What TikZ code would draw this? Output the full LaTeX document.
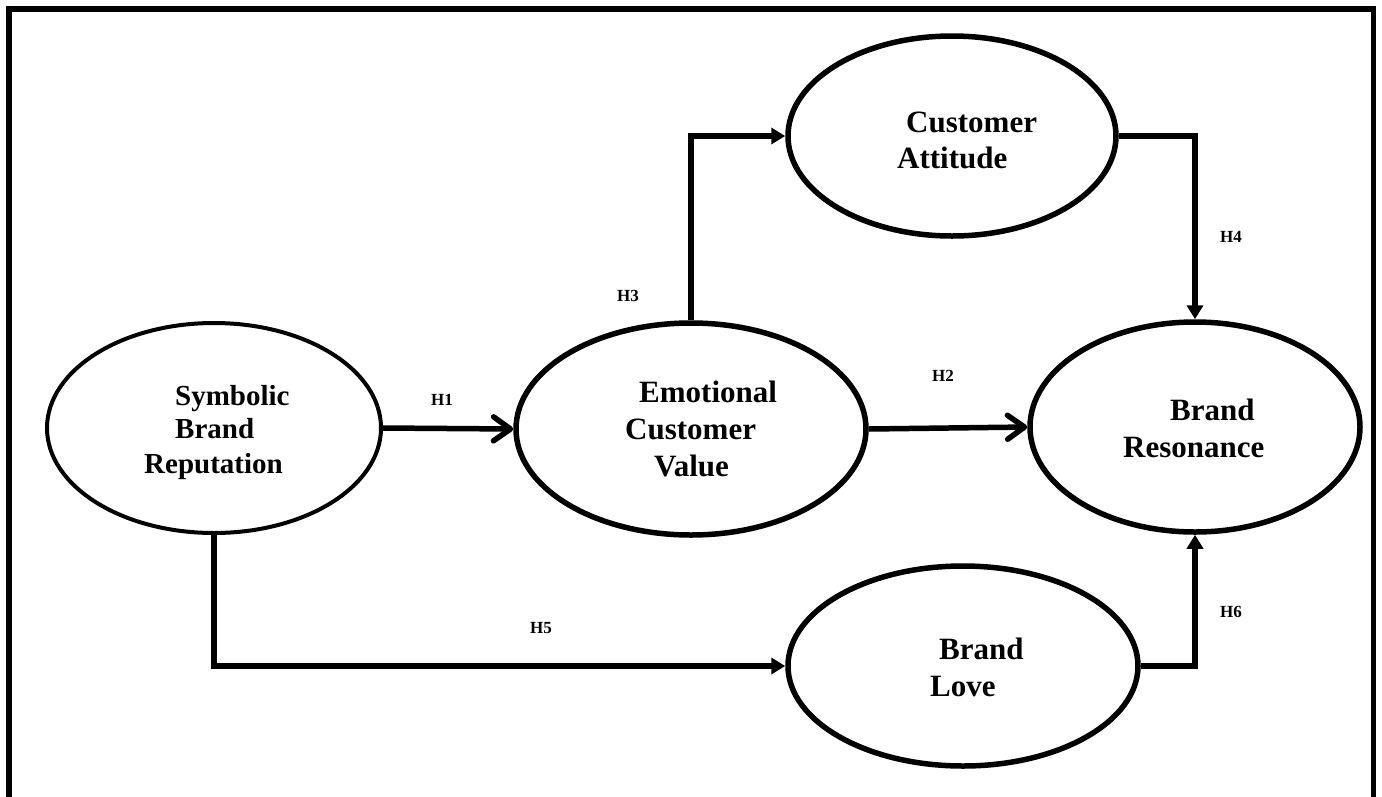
\documentclass[tikz,border=0pt]{standalone}
\usepackage{fontspec}
\setmainfont{Liberation Serif}
\usetikzlibrary{shapes.geometric,arrows.meta}
\tikzset{
  oval/.style={ellipse,draw=black,line width=5.5pt,inner sep=0pt},
  conn/.style={line width=5.5pt,draw=black},
  openarrow/.style={conn,-{Straight Barb[length=17pt,width=24pt,round]}},
  filledarrow/.style={conn,-{Triangle[length=14pt,width=16pt]}},
  wordsm/.style={anchor=base west,inner sep=0pt,font=\fontsize{29}{35}\selectfont\bfseries},
  word/.style={anchor=base west,inner sep=0pt,font=\fontsize{31}{37}\selectfont\bfseries},
  hyp/.style={inner sep=0pt,font=\fontsize{17}{20}\selectfont\bfseries}
}
\begin{document}
\begin{tikzpicture}[x=1pt,y=-1pt]
\useasboundingbox (0,0) rectangle (1382,796);
\clip (0,0) rectangle (1382,796);
% frame (bottom open)
\draw[line width=5.5pt] (9,820) -- (9,9) -- (1373.5,9) -- (1373.5,820);
% ellipses
\node[oval,line width=4pt,minimum width=334pt,minimum height=210pt] (sbr) at (214,428) {};
\node[oval,minimum width=350pt,minimum height=212pt] (ecv) at (691,429) {};
\node[oval,minimum width=328pt,minimum height=200pt] (ca) at (952,136) {};
\node[oval,minimum width=330pt,minimum height=210pt] (br) at (1195,427) {};
\node[oval,minimum width=350pt,minimum height=200pt] (bl) at (963,666) {};
% texts
\node[wordsm] (t1) at (175,405) {Symbolic};
\node[wordsm] (t2) at (175,438) {Brand};
\node[wordsm] (t3) at (144,473) {Reputation};
\node[word] (t4) at (639,402) {Emotional};
\node[word] (t5) at (625,439) {Customer};
\node[word] (t6) at (654,476) {Value};
\node[word] (t7) at (906,132) {Customer};
\node[word] (t8) at (897,168) {Attitude};
\node[word] (t9) at (1170,420) {Brand};
\node[word] (t10) at (1123,457) {Resonance};
\node[word] (t11) at (939,659) {Brand};
\node[word] (t12) at (930,696) {Love};
% connectors
\draw[openarrow] (sbr.east) -- (ecv.west);
\draw[openarrow] (ecv.east) -- (br.west);
\draw[filledarrow] (ecv.north) |- (ca.west);
\draw[filledarrow] (ca.east) -| (br.north);
\draw[filledarrow] (sbr.south) |- (bl.west);
\draw[filledarrow] (bl.east) -| (br.south);
% hypothesis labels
\node[hyp] (h1) at (442,400) {H1};
\node[hyp] (h2) at (943,376) {H2};
\node[hyp] (h3) at (628,296) {H3};
\node[hyp] (h4) at (1231,237) {H4};
\node[hyp] (h5) at (541,628) {H5};
\node[hyp] (h6) at (1231,612) {H6};
\end{tikzpicture}
\end{document}
